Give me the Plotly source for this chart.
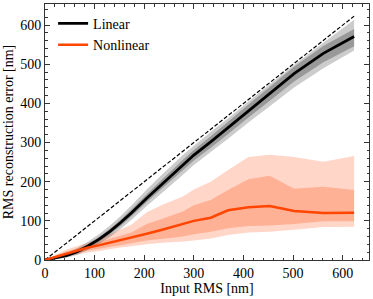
import plotly.graph_objects as go

# ---- data ----
input_rms = [0, 16, 43, 65, 87, 110, 131, 152, 174, 205, 238, 278, 300, 334, 369, 410, 453, 502, 561, 623]

lin_med    = [0, 4, 11, 21, 36, 54, 73, 95, 120, 158, 197, 243, 268, 302, 338, 381, 425, 476, 528, 571]
lin_in_hi  = [0, 5, 14, 25, 41, 60, 80, 103, 129, 168, 208, 256, 281, 316, 353, 397, 442, 494, 547, 590]
lin_in_lo  = [0, 3, 8, 17, 31, 48, 66, 87, 111, 148, 185, 229, 254, 287, 322, 364, 407, 456, 505, 546]
lin_out_hi = [0, 6, 17, 30, 47, 67, 88, 112, 139, 180, 221, 268, 292, 327, 362, 405, 449, 498, 555, 614]
lin_out_lo = [0, 2, 6, 13, 26, 42, 59, 79, 102, 138, 174, 218, 243, 276, 310, 351, 393, 441, 490, 535]

nl_med     = [0, 6, 17, 24, 32, 38, 44, 51, 58, 67, 78, 92, 100, 108, 127, 135, 138, 125, 120, 121]
nl_in_hi   = [0, 8, 22, 30, 38, 46, 54, 62, 70, 92, 106, 124, 140, 153, 179, 206, 215, 182, 187, 179]
nl_in_lo   = [0, 4, 12, 18, 24, 29, 34, 38, 43, 50, 54, 60, 66, 72, 81, 87, 88, 92, 99, 99]
nl_out_hi  = [0, 10, 26, 36, 44, 55, 66, 78, 90, 122, 142, 162, 180, 200, 230, 263, 269, 263, 251, 266]
nl_out_lo  = [0, 3, 9, 14, 19, 23, 28, 32, 35, 40, 44, 47, 50, 55, 64, 70, 72, 77, 84, 85]

x_ticks = [0, 100, 200, 300, 400, 500, 600]
y_ticks = [0, 100, 200, 300, 400, 500, 600]
x_range = [0, 653]
y_range = [0, 654]

FONT = "Liberation Serif"
AX = "#333333"

fig = go.Figure()


def band(lo, hi, color):
    fig.add_trace(go.Scatter(
        x=input_rms + input_rms[::-1], y=hi + lo[::-1],
        fill="toself", fillcolor=color, mode="none",
        line=dict(width=0), showlegend=False, hoverinfo="skip"))


band(nl_out_lo, nl_out_hi, "rgba(255,69,0,0.22)")
band(nl_in_lo, nl_in_hi, "rgba(255,69,0,0.25)")
band(lin_out_lo, lin_out_hi, "rgba(0,0,0,0.2)")
band(lin_in_lo, lin_in_hi, "rgba(0,0,0,0.25)")

fig.add_trace(go.Scatter(x=input_rms, y=input_rms, mode="lines",
                         line=dict(color="black", width=1.2, dash="4px,2px"),
                         showlegend=False, hoverinfo="skip"))

fig.add_trace(go.Scatter(x=input_rms, y=lin_med, mode="lines", name="Linear",
                         line=dict(color="black", width=2.8), legendgroup="a"))
fig.add_trace(go.Scatter(x=input_rms, y=nl_med, mode="lines", name="Nonlinear",
                         line=dict(color="#ff4500", width=2.5), legendgroup="b"))

common = dict(showgrid=False, zeroline=False, showline=True, linecolor=AX, linewidth=1,
              ticks="inside", ticklen=5, tickwidth=1, tickcolor=AX, automargin=False,
              minor=dict(ticks="inside", ticklen=2.5, tickwidth=0.8, tickcolor=AX, dtick=20))
tf = dict(family=FONT, size=14, color="black")

fig.update_layout(
    width=373, height=299,
    margin=dict(l=45, r=4, t=4, b=39, autoexpand=False),
    paper_bgcolor="white", plot_bgcolor="white",
    font=dict(family=FONT, size=14, color="black"),
    xaxis=dict(range=x_range, tickvals=x_ticks, tickfont=tf, **common,
               title=dict(text="Input RMS [nm]", font=dict(family=FONT, size=14), standoff=2)),
    yaxis=dict(range=y_range, tickvals=y_ticks, tickfont=tf, **common,
               title=dict(text="RMS reconstruction error [nm]", font=dict(family=FONT, size=14), standoff=3)),
    xaxis2=dict(range=x_range, tickvals=x_ticks, overlaying="x", side="top", showticklabels=False, **common),
    yaxis2=dict(range=y_range, tickvals=y_ticks, overlaying="y", side="right", showticklabels=False, **common),
    legend=dict(x=0.025, y=0.985, xanchor="left", yanchor="top", bgcolor="rgba(0,0,0,0)",
                font=dict(family=FONT, size=14), traceorder="grouped", tracegroupgap=0),
    showlegend=True,
)

fig.add_trace(go.Scatter(x=[None], y=[None], xaxis="x2", yaxis="y2", showlegend=False, hoverinfo="skip"))

fig.write_html("out.html", config={"displayModeBar": False},
               post_script="document.body.style.margin='0';")
